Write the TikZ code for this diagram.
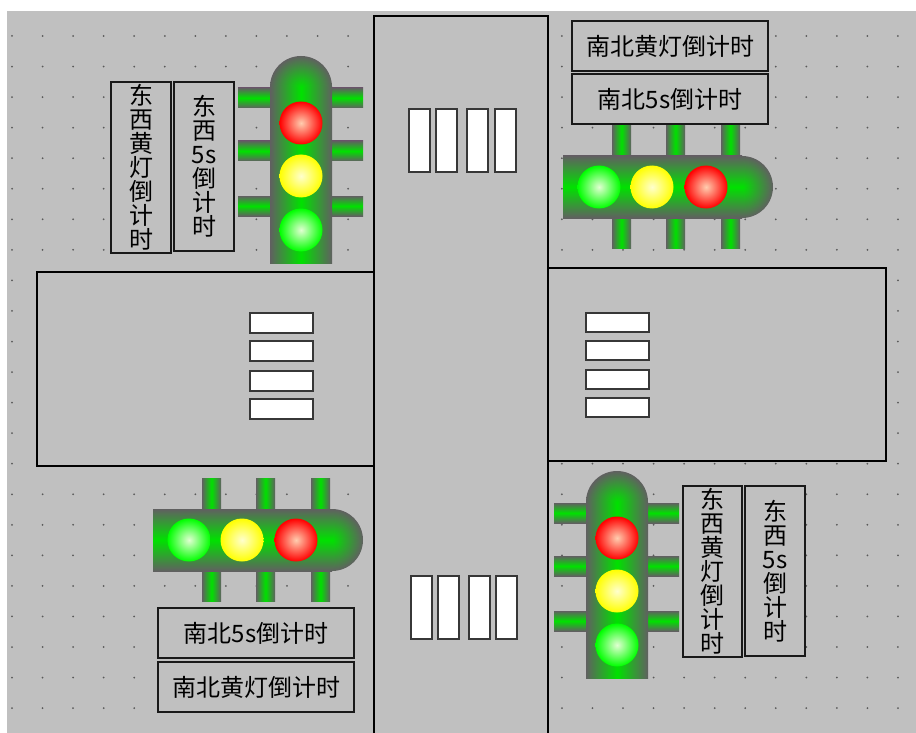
\documentclass[tikz,border=0pt]{standalone}
\usepackage{fontspec}
\usepackage{xcolor}
\usepackage{tikz}
\newfontfamily\cjk{Noto Sans CJK SC}
\definecolor{bgcol}{RGB}{192,192,192}
\definecolor{dotcol}{RGB}{90,90,90}
\definecolor{edgecol}{RGB}{25,25,25}
\definecolor{zebracol}{RGB}{55,55,55}
\definecolor{lampgy}{RGB}{96,96,96}
\definecolor{lampgr}{RGB}{0,225,0}
\definecolor{redcol}{RGB}{255,0,0}
\definecolor{redhi}{RGB}{255,205,175}
\definecolor{yelcol}{RGB}{255,255,0}
\definecolor{yelhi}{RGB}{255,255,205}
\definecolor{grncol}{RGB}{0,255,0}
\definecolor{grnhi}{RGB}{225,255,210}

\begin{document}
\begin{tikzpicture}[x=1pt, y=-1pt,
    every node/.style={font=\cjk\fontsize{24}{24}\selectfont},
    cdbox/.style={draw=edgecol, line width=1.5pt, fill=bgcol, inner sep=0pt, align=center},
    road/.style={draw=black, line width=1.6pt, fill=bgcol},
    zebra/.style={draw=zebracol, line width=1.4pt, fill=white}]

    \clip (0,0) rectangle (916,733);
    \fill[white] (0,0) rectangle (916,733);
    \fill[bgcol] (7,11) rectangle (916,733);

    %% grid dots
    \foreach \i in {0,...,29}
      \foreach \j in {0,...,22}
        \fill[dotcol] (12+30.55*\i, 36+30.55*\j) circle (1.0);

    %% roads
    \draw[road] (37,272) rectangle (374,466);
    \draw[road] (548,268) rectangle (886,461);
    \draw[road] (374,16) rectangle (548,745);

    %% zebra crossings
    \foreach \xa in {409,436,467,495}
      \draw[zebra] (\xa,109) rectangle ++(21,63);
    \foreach \xa in {411,438,469,496}
      \draw[zebra] (\xa,576) rectangle ++(21,63);
    \foreach \ya in {313,341,371,399}
      \draw[zebra] (250,\ya) rectangle ++(63,20);
    \foreach \ya in {313,341,370,398}
      \draw[zebra] (586,\ya) rectangle ++(63,19);

    %% upright signal, west side
    \begin{scope}
      \foreach \ya in {88,141,196}
        \shade[top color=lampgy, bottom color=lampgy, middle color=lampgr]
          (238,\ya) rectangle (363,\ya+20);
      \shade[left color=lampgy, right color=lampgy, middle color=lampgr]
        (270,87) rectangle (332,263);
      \begin{scope}
        \clip (270,55) rectangle (332,87);
        \shade[inner color=lampgr, outer color=lampgy] (301,87) circle (31);
      \end{scope}
      \shade[inner color=redhi, outer color=redcol] (301,123) circle (21.5);
      \shade[inner color=yelhi, outer color=yelcol] (301,176) circle (21.5);
      \shade[inner color=grnhi, outer color=grncol] (301,230) circle (21.5);
    \end{scope}

    %% upright signal, east side
    \begin{scope}[shift={(316,415)}]
      \foreach \ya in {88,141,196}
        \shade[top color=lampgy, bottom color=lampgy, middle color=lampgr]
          (238,\ya) rectangle (363,\ya+20);
      \shade[left color=lampgy, right color=lampgy, middle color=lampgr]
        (270,87) rectangle (332,263);
      \begin{scope}
        \clip (270,55) rectangle (332,87);
        \shade[inner color=lampgr, outer color=lampgy] (301,87) circle (31);
      \end{scope}
      \shade[inner color=redhi, outer color=redcol] (301,123) circle (21.5);
      \shade[inner color=yelhi, outer color=yelcol] (301,176) circle (21.5);
      \shade[inner color=grnhi, outer color=grncol] (301,230) circle (21.5);
    \end{scope}

    %% lying signal, north side
    \begin{scope}
      \foreach \xa in {612,666,721}
        \shade[left color=lampgy, right color=lampgy, middle color=lampgr]
          (\xa,125) rectangle (\xa+19,248);
      \shade[top color=lampgy, bottom color=lampgy, middle color=lampgr]
        (563,156) rectangle (742,218);
      \begin{scope}
        \clip (742,156) rectangle (774,218);
        \shade[inner color=lampgr, outer color=lampgy] (742,187) circle (31);
      \end{scope}
      \shade[inner color=grnhi, outer color=grncol] (599,187) circle (21.5);
      \shade[inner color=yelhi, outer color=yelcol] (652,187) circle (21.5);
      \shade[inner color=redhi, outer color=redcol] (706,187) circle (21.5);
    \end{scope}

    %% lying signal, south side
    \begin{scope}[shift={(-410,353)}]
      \foreach \xa in {612,666,721}
        \shade[left color=lampgy, right color=lampgy, middle color=lampgr]
          (\xa,125) rectangle (\xa+19,248);
      \shade[top color=lampgy, bottom color=lampgy, middle color=lampgr]
        (563,156) rectangle (742,218);
      \begin{scope}
        \clip (742,156) rectangle (774,218);
        \shade[inner color=lampgr, outer color=lampgy] (742,187) circle (31);
      \end{scope}
      \shade[inner color=grnhi, outer color=grncol] (599,187) circle (21.5);
      \shade[inner color=yelhi, outer color=yelcol] (652,187) circle (21.5);
      \shade[inner color=redhi, outer color=redcol] (706,187) circle (21.5);
    \end{scope}

    %% countdown boxes
    \node[cdbox, minimum width=60pt, minimum height=171pt] (ewYelW) at (141,167.5)
      {东\\西\\黄\\灯\\倒\\计\\时};
    \node[cdbox, minimum width=60pt, minimum height=169pt] (ewFiveW) at (204,166.5)
      {东\\西\\5s\\倒\\计\\时};
    \node[cdbox, minimum width=59pt, minimum height=171pt] (ewYelE) at (712.5,571.5)
      {东\\西\\黄\\灯\\倒\\计\\时};
    \node[cdbox, minimum width=60pt, minimum height=170pt] (ewFiveE) at (775,571)
      {东\\西\\5s\\倒\\计\\时};

    \node[cdbox, minimum width=196pt, minimum height=50pt] (nsYelN) at (670,46)
      {南北黄灯倒计时};
    \node[cdbox, minimum width=196pt, minimum height=50pt] (nsFiveN) at (670,99)
      {南北5s倒计时};
    \node[cdbox, minimum width=196pt, minimum height=50pt] (nsFiveS) at (256,633)
      {南北5s倒计时};
    \node[cdbox, minimum width=196pt, minimum height=50pt] (nsYelS) at (256,687)
      {南北黄灯倒计时};

  \end{tikzpicture}
\end{document}
